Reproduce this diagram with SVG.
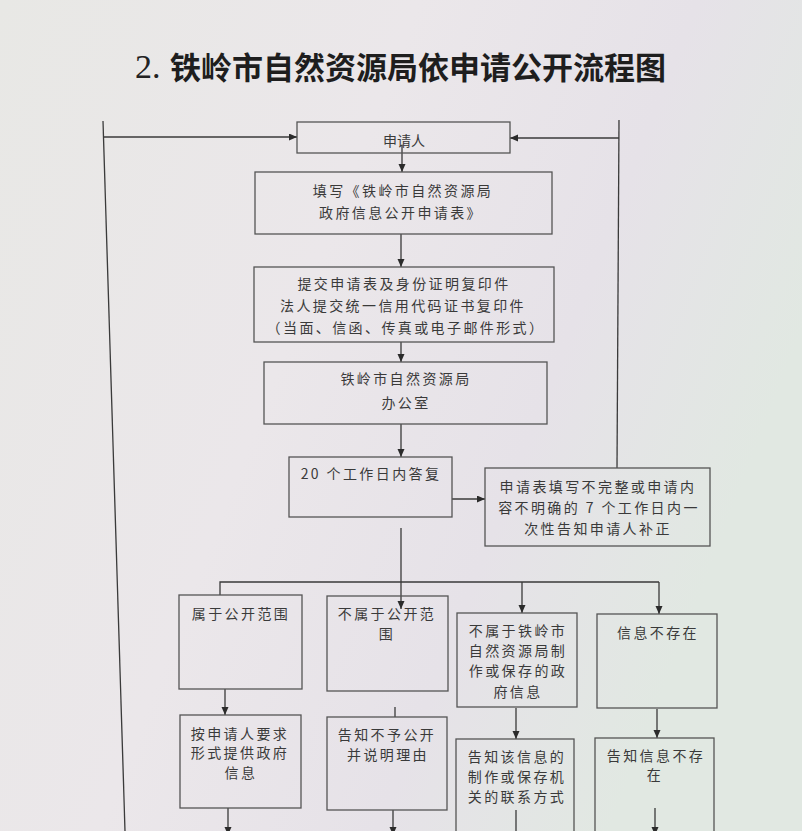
<svg xmlns="http://www.w3.org/2000/svg" width="802" height="831" viewBox="0 0 802 831">
<defs>
<linearGradient id="bg" x1="0" y1="0" x2="1" y2="0.4">
<stop offset="0" stop-color="#e8e8e5"/>
<stop offset="0.45" stop-color="#ebe7ea"/>
<stop offset="0.75" stop-color="#e6e2e8"/>
<stop offset="1" stop-color="#e1e8e2"/>
</linearGradient>
<marker id="ah" markerUnits="userSpaceOnUse" markerWidth="9" markerHeight="8" refX="8" refY="3.5" orient="auto">
<path d="M0,0 L8,3.5 L0,7 z" fill="#2b2b2b"/>
</marker>
<style>
.box{fill:none;stroke:#555;stroke-width:1.3}
.ln{fill:none;stroke:#3a3a3a;stroke-width:1.3}
.ar{fill:none;stroke:#3a3a3a;stroke-width:1.3;marker-end:url(#ah)}
.t{font-family:"Noto Sans CJK SC","Noto Sans",sans-serif;font-size:14px;fill:#3a3a3a;text-anchor:middle;dominant-baseline:central;letter-spacing:2.4px}
.t0{letter-spacing:0}
.title{font-family:"Noto Sans CJK SC","Noto Sans",sans-serif;font-size:31px;font-weight:bold;fill:#1e1e1e;dominant-baseline:central}
</style>
</defs>
<rect x="0" y="0" width="802" height="831" fill="url(#bg)"/>

<g id="title">
<text x="135" y="66" font-family="Liberation Serif, serif" font-size="34" fill="#222" dominant-baseline="central">2.</text>
<text class="title" x="170" y="65" textLength="496" lengthAdjust="spacingAndGlyphs">铁岭市自然资源局依申请公开流程图</text>
</g>

<g id="connectors">
<line class="ln" x1="103" y1="121" x2="125" y2="831"/>
<line class="ar" x1="103.5" y1="137" x2="297" y2="137"/>
<line class="ln" x1="619" y1="120" x2="617" y2="468"/>
<line class="ar" x1="619" y1="138" x2="510" y2="138"/>
<line class="ar" x1="402" y1="145" x2="402" y2="172"/>
<line class="ar" x1="401" y1="234" x2="401" y2="267"/>
<line class="ar" x1="401" y1="342" x2="401" y2="362"/>
<line class="ar" x1="401" y1="424" x2="401" y2="457"/>
<line class="ar" x1="452" y1="499" x2="485" y2="499"/>
<line class="ar" x1="401" y1="528" x2="401" y2="609"/>
<polyline class="ln" points="220,595 220,582 659,582"/>
<line class="ar" x1="522" y1="582" x2="522" y2="613"/>
<line class="ar" x1="659" y1="582" x2="659" y2="614"/>
<line class="ar" x1="225" y1="689" x2="225" y2="715"/>
<line class="ln" x1="395" y1="707" x2="395" y2="717"/>
<line class="ar" x1="516" y1="708" x2="516" y2="739"/>
<line class="ar" x1="657" y1="709" x2="657" y2="738"/>
<line class="ar" x1="228" y1="808" x2="228" y2="835"/>
<line class="ar" x1="393" y1="810" x2="393" y2="835"/>
<line class="ln" x1="516" y1="810" x2="516" y2="831"/>
<line class="ar" x1="655" y1="808" x2="655" y2="835"/>
</g>

<g id="applicant">
<rect class="box" x="297" y="122" width="213" height="31"/>
<text class="t t0" x="404" y="140">申请人</text>
</g>

<g id="fill-form">
<rect class="box" x="255" y="172" width="297" height="62"/>
<text class="t" x="403" y="190">填写《铁岭市自然资源局</text>
<text class="t" x="401" y="212">政府信息公开申请表》</text>
</g>

<g id="submit">
<rect class="box" x="254" y="267" width="300" height="75"/>
<text class="t" x="404" y="283">提交申请表及身份证明复印件</text>
<text class="t" x="403" y="305">法人提交统一信用代码证书复印件</text>
<text class="t" x="406" y="327">（当面、信函、传真或电子邮件形式）</text>
</g>

<g id="office">
<rect class="box" x="264" y="362" width="283" height="62"/>
<text class="t" x="406" y="378">铁岭市自然资源局</text>
<text class="t" x="406" y="402">办公室</text>
</g>

<g id="reply">
<rect class="box" x="289" y="457" width="163" height="60"/>
<text class="t" x="371" y="473">20 个工作日内答复</text>
</g>

<g id="incomplete">
<rect class="box" x="485" y="468" width="225" height="78"/>
<text class="t" x="598" y="486">申请表填写不完整或申请内</text>
<text class="t" x="599" y="507">容不明确的 7 个工作日内一</text>
<text class="t" x="598" y="528">次性告知申请人补正</text>
</g>

<g id="public">
<rect class="box" x="179" y="595" width="123" height="94"/>
<text class="t" x="241" y="613">属于公开范围</text>
</g>

<g id="not-public">
<rect class="box" x="327" y="596" width="121" height="95"/>
<text class="t" x="387" y="613">不属于公开范</text>
<text class="t" x="387" y="633">围</text>
</g>

<g id="not-ours">
<rect class="box" x="457" y="613" width="120" height="94"/>
<text class="t" x="518" y="630">不属于铁岭市</text>
<text class="t" x="518" y="650">自然资源局制</text>
<text class="t" x="518" y="670">作或保存的政</text>
<text class="t" x="518" y="691">府信息</text>
</g>

<g id="not-exist">
<rect class="box" x="597" y="614" width="120" height="94"/>
<text class="t" x="658" y="632">信息不存在</text>
</g>

<g id="provide">
<rect class="box" x="180" y="715" width="121" height="93"/>
<text class="t" x="240" y="733">按申请人要求</text>
<text class="t" x="240" y="752">形式提供政府</text>
<text class="t" x="241" y="772">信息</text>
</g>

<g id="refuse">
<rect class="box" x="327" y="717" width="120" height="93"/>
<text class="t" x="387" y="734">告知不予公开</text>
<text class="t" x="388" y="754">并说明理由</text>
</g>

<g id="contact">
<rect class="box" x="456" y="739" width="118" height="110"/>
<text class="t" x="517" y="756">告知该信息的</text>
<text class="t" x="517" y="776">制作或保存机</text>
<text class="t" x="517" y="796">关的联系方式</text>
</g>

<g id="inform-not-exist">
<rect class="box" x="595" y="738" width="119" height="110"/>
<text class="t" x="656" y="755">告知信息不存</text>
<text class="t" x="655" y="774">在</text>
</g>
</svg>
